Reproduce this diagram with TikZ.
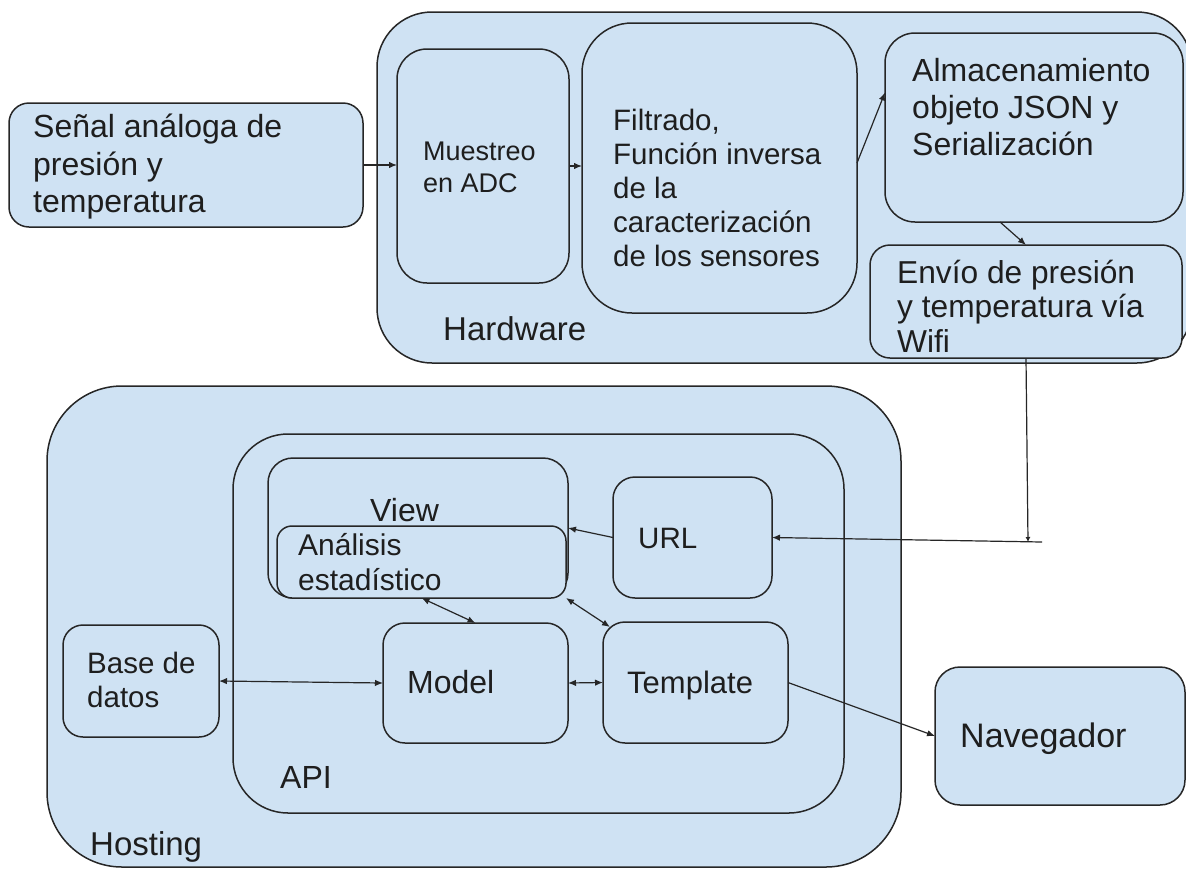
\documentclass[tikz,border=0pt]{standalone}
\usepackage{fontspec}
\setmainfont{Liberation Sans}
\usetikzlibrary{arrows.meta,calc}
\definecolor{boxfill}{HTML}{CFE2F3}
\definecolor{linec}{HTML}{262626}
\definecolor{textc}{HTML}{1E1E1E}
\tikzset{
  blk/.style={draw=linec, fill=boxfill, line width=1.5pt, inner sep=0pt, outer sep=0pt},
  % multi-line labels are placed by the baseline of their last line
  lbl/.style={anchor=base west, inner sep=0pt, text=textc, align=left},
  arr/.style={draw=linec, line width=1.2pt, -{Latex[length=8pt,width=6.5pt]}},
  darr/.style={draw=linec, line width=1.2pt, {Latex[length=8pt,width=6.5pt]}-{Latex[length=8pt,width=6.5pt]}},
  tick/.style={draw=linec, line width=1.2pt, -{Latex[length=5pt,width=5pt]}},
}
\newcommand{\fs}[2]{\fontsize{#1pt}{#2pt}\selectfont}
\begin{document}
\begin{tikzpicture}[x=1pt,y=-1pt]
\useasboundingbox (0,0) rectangle (1186,868);

% ---- Hardware block ----
\node[blk, rounded corners=55pt, minimum width=815pt, minimum height=351pt] (hw) at (784.5,187.5) {};
\node[blk, rounded corners=30pt, minimum width=172pt, minimum height=234pt] (mues) at (483,166) {};
\node[blk, rounded corners=50pt, minimum width=275pt, minimum height=290pt] (filt) at (719.5,168) {};
\node[blk, rounded corners=30pt, minimum width=298pt, minimum height=189pt] (alm) at (1034,127.5) {};
\node[blk, rounded corners=20pt, minimum width=312pt, minimum height=113pt] (env) at (1026,301.5) {};

% ---- input signal ----
\node[blk, rounded corners=20pt, minimum width=354pt, minimum height=124pt] (senal) at (186,165) {};

% ---- Hosting block ----
\node[blk, rounded corners=75pt, minimum width=854pt, minimum height=481pt] (host) at (474,626.5) {};
\node[blk, rounded corners=55pt, minimum width=611pt, minimum height=379pt] (api) at (538.5,623.5) {};
\node[blk, rounded corners=25pt, minimum width=300pt, minimum height=140pt] (view) at (418,528) {};
\node[blk, rounded corners=15pt, minimum width=289pt, minimum height=72pt] (anal) at (421.5,562) {};
\node[blk, rounded corners=22pt, minimum width=159pt, minimum height=121pt] (url) at (692.5,537.5) {};
\node[blk, rounded corners=22pt, minimum width=185pt, minimum height=120pt] (model) at (475.5,683) {};
\node[blk, rounded corners=22pt, minimum width=185pt, minimum height=121pt] (templ) at (695.5,682.5) {};
\node[blk, rounded corners=20pt, minimum width=156pt, minimum height=112pt] (base) at (141,681) {};

% ---- browser ----
\node[blk, rounded corners=25pt, minimum width=250pt, minimum height=138pt] (nav) at (1060,736) {};

% ---- labels ----
\node[lbl, font=\fs{32}{37.5}] (tsenal) at (33,212.7) {Señal análoga de\\presión y\\temperatura};
\node[lbl, font=\fs{27}{31.3}] (tmues) at (423,192) {Muestreo\\en ADC};
\node[lbl, font=\fs{29.5}{34}] (tfilt) at (613,266) {Filtrado,\\Función inversa\\de la\\caracterización\\de los sensores};
\node[lbl, font=\fs{32}{37}] (talm) at (912,155.7) {Almacenamiento\\objeto JSON y\\Serialización};
\node[lbl, font=\fs{31.7}{34.5}] (tenv) at (897,352) {Envío de presión\\y temperatura vía\\Wifi};
\node[lbl, font=\fs{33}{38}] (thw) at (443,340) {Hardware};
\node[lbl, font=\fs{32}{38}] (tview) at (370,521.7) {View};
\node[lbl, font=\fs{30}{34.3}] (tanal) at (298,590) {Análisis\\estadístico};
\node[lbl, font=\fs{29.5}{34}] (tbase) at (87,707) {Base de\\datos};
\node[lbl, font=\fs{32}{38}] (tmodel) at (407,693) {Model};
\node[lbl, font=\fs{29.5}{34}] (turl) at (638,548) {URL};
\node[lbl, font=\fs{31}{36}] (ttempl) at (627,693) {Template};
\node[lbl, font=\fs{32}{38}] (tapi) at (280,788) {API};
\node[lbl, font=\fs{33}{38}] (thost) at (90,855) {Hosting};
\node[lbl, font=\fs{34}{40}] (tnav) at (960,747) {Navegador};

% ---- connectors ----
\coordinate (junc) at (1028,542);
\coordinate (tail) at (1042,542);
\draw[arr] (senal.east) -- (senal.east -| mues.west);
\draw[arr] (mues.east) -- (mues.east -| filt.west);
\draw[arr] ([yshift=5pt]filt.east) -- ([yshift=35pt]alm.west);
\draw[arr] ([xshift=-34pt]alm.south) -- (env.north);
\draw[tick] (env.south) -- (junc);
\draw[arr] (tail) -- (url.east);
\draw[arr] (url.west) -- (view.east);
\draw[darr] (anal.south) -- (model.north);
\draw[darr] (anal.south east) -- ([shift={(7pt,-5pt)}]templ.north west);
\draw[darr] (base.east) -- (model.west);
\draw[darr] (model.east) -- (templ.west);
\draw[arr] (templ.east) -- (nav.west);
\end{tikzpicture}
\end{document}
